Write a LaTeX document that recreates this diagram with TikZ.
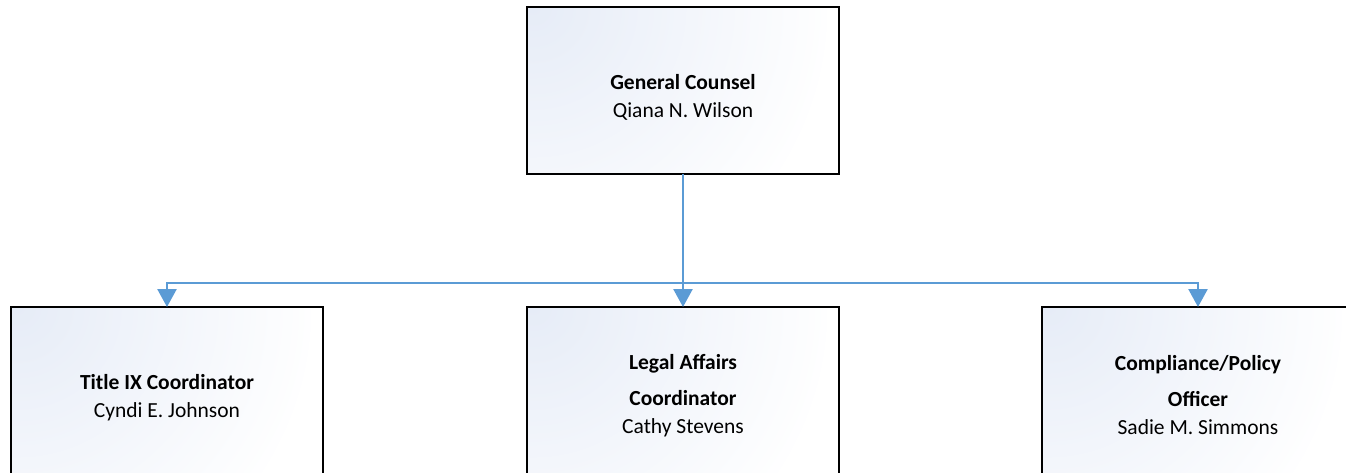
\documentclass[tikz,border=0pt]{standalone}
\usepackage{fontspec}
\setmainfont{Carlito}
\usetikzlibrary{arrows.meta}
\definecolor{conn}{HTML}{5B9BD5}
\definecolor{shadec}{HTML}{E6ECF7}
\begin{document}
\begin{tikzpicture}[x=1pt,y=-1pt,
 box/.style={draw=black,line width=2.2pt,fill=white,minimum width=312pt,minimum height=167pt,inner sep=0pt,outer sep=0pt,anchor=north west,
   path picture={\shade[inner color=shadec,outer color=white] (path picture bounding box.north west) circle (300pt);}},
 txt/.style={align=center,font=\fontsize{21.5}{28}\selectfont,inner sep=0pt},
 link/.style={draw=conn,line width=2.5pt},
 arr/.style={link,-{Triangle[width=19pt,length=18pt]}}]
\clip (0,0) rectangle (1346,473);
\fill[white] (0,0) rectangle (1346,473);
\node[box] (gc) at (527,7) {};
\node[box] (t9) at (11,307) {};
\node[box] (la) at (527,307) {};
\node[box] (cp) at (1042,307) {};
\node[txt] (gcT) at ([yshift=-7pt]gc.center) {\textbf{General Counsel}\\Qiana N. Wilson};
\node[txt] (t9T) at ([yshift=-7pt]t9.center) {\textbf{Title IX Coordinator}\\Cyndi E. Johnson};
\node[txt] (laT) at ([yshift=-5pt]la.center) {\textbf{Legal Affairs}\\[8pt]\textbf{Coordinator}\\Cathy Stevens};
\node[txt] (cpT) at ([yshift=-5pt]cp.center) {\textbf{Compliance/Policy}\\[8pt]\textbf{Officer}\\Sadie M. Simmons};
\coordinate (bus) at (gc.south |- 0,283);
\draw[link] (gc.south) -- (bus);
\draw[arr] (bus) -| (t9.north);
\draw[arr] (bus) -- (la.north);
\draw[arr] (bus) -| (cp.north);
\end{tikzpicture}
\end{document}
